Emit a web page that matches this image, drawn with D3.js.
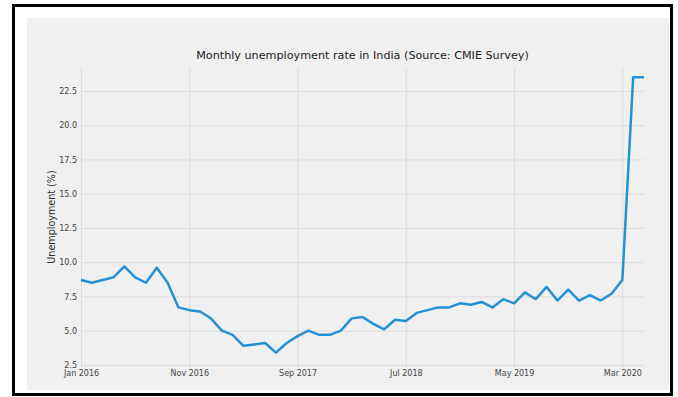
<!DOCTYPE html>
<meta charset="utf-8">
<script src="https://d3js.org/d3.v7.min.js"></script>
<style>
	body{
		margin:0;
		background:#fff;
		font-family:'DejaVu Sans', sans-serif;
	}
</style>
<div id="chart"></div>
<script>
// monthly CMIE unemployment rate, Jan 2016 .. May 2020
var rates = [
	8.7, 8.5, 8.7, 8.9, 9.7, 8.9, 8.5, 9.6, 8.5, 6.7, 6.5, 6.4,
	5.9, 5.0, 4.7, 3.9, 4.0, 4.1, 3.4, 4.1, 4.6, 5.0, 4.7, 4.7,
	5.0, 5.9, 6.0, 5.5, 5.1, 5.8, 5.7, 6.3, 6.5, 6.7, 6.7, 7.0,
	6.9, 7.1, 6.7, 7.3, 7.0, 7.8, 7.3, 8.2, 7.2, 8.0, 7.2, 7.6,
	7.2, 7.7, 8.7, 23.5, 23.5
]
var xTickIdx = [0, 10, 20, 30, 40, 50]
var xTickLabels = ["Jan 2016", "Nov 2016", "Sep 2017", "Jul 2018", "May 2019", "Mar 2020"]
var yTicks = [2.5, 5.0, 7.5, 10.0, 12.5, 15.0, 17.5, 20.0, 22.5]

var w = 678
var h = 397
var svg = d3.select("#chart").append("svg").attr("width",w).attr("height",h)

// figure background + frame
svg.append("rect").attr("x",27).attr("y",18).attr("width",642).attr("height",372).attr("fill","#f0f0f0")
svg.append("rect").attr("x",13.5).attr("y",5.5).attr("width",658).attr("height",389)
	.attr("fill","none").attr("stroke","#000").attr("stroke-width",3)

var pLeft = 81, pRight = 644, pTop = 67, pBottom = 367
var xScale = d3.scaleLinear().domain([0, rates.length-1]).range([pLeft,pRight])
var yScale = d3.scaleLinear().domain([2.35, 24.25]).range([pBottom,pTop])

var yAxis = d3.axisLeft(yScale).tickValues(yTicks).tickFormat(d3.format(".1f"))
	.tickSize(-(pRight-pLeft)).tickPadding(4)
var xAxis = d3.axisBottom(xScale).tickValues(xTickIdx)
	.tickFormat(function(d,i){ return xTickLabels[i] })
	.tickSize(-(pBottom-pTop)).tickPadding(3)

var gy = svg.append("g").attr("transform","translate("+pLeft+",0)").call(yAxis)
var gx = svg.append("g").attr("transform","translate(0,"+pBottom+")").call(xAxis)

svg.selectAll(".domain").remove()
svg.selectAll(".tick line").attr("stroke","#dcdcdc").attr("stroke-width",1)
svg.selectAll(".tick text").attr("fill","#444").style("font-size","8px").style("font-family","'DejaVu Sans', sans-serif")

var line = d3.line()
	.x(function(d,i){ return xScale(i) })
	.y(function(d){ return yScale(d) })

svg.append("path").datum(rates)
	.attr("d",line)
	.attr("fill","none")
	.attr("stroke","#2391d3")
	.attr("stroke-width",2.5)
	.attr("stroke-linejoin","round")

svg.append("text").text("Monthly unemployment rate in India (Source: CMIE Survey)")
	.attr("x",(pLeft+pRight)/2).attr("y",59)
	.attr("text-anchor","middle")
	.attr("fill","#222")
	.style("font-size","11.2px")

svg.append("text").text("Unemployment (%)")
	.attr("transform","translate(55,"+((pTop+pBottom)/2)+") rotate(-90)")
	.attr("text-anchor","middle")
	.attr("fill","#333")
	.style("font-size","9.6px")
</script>
